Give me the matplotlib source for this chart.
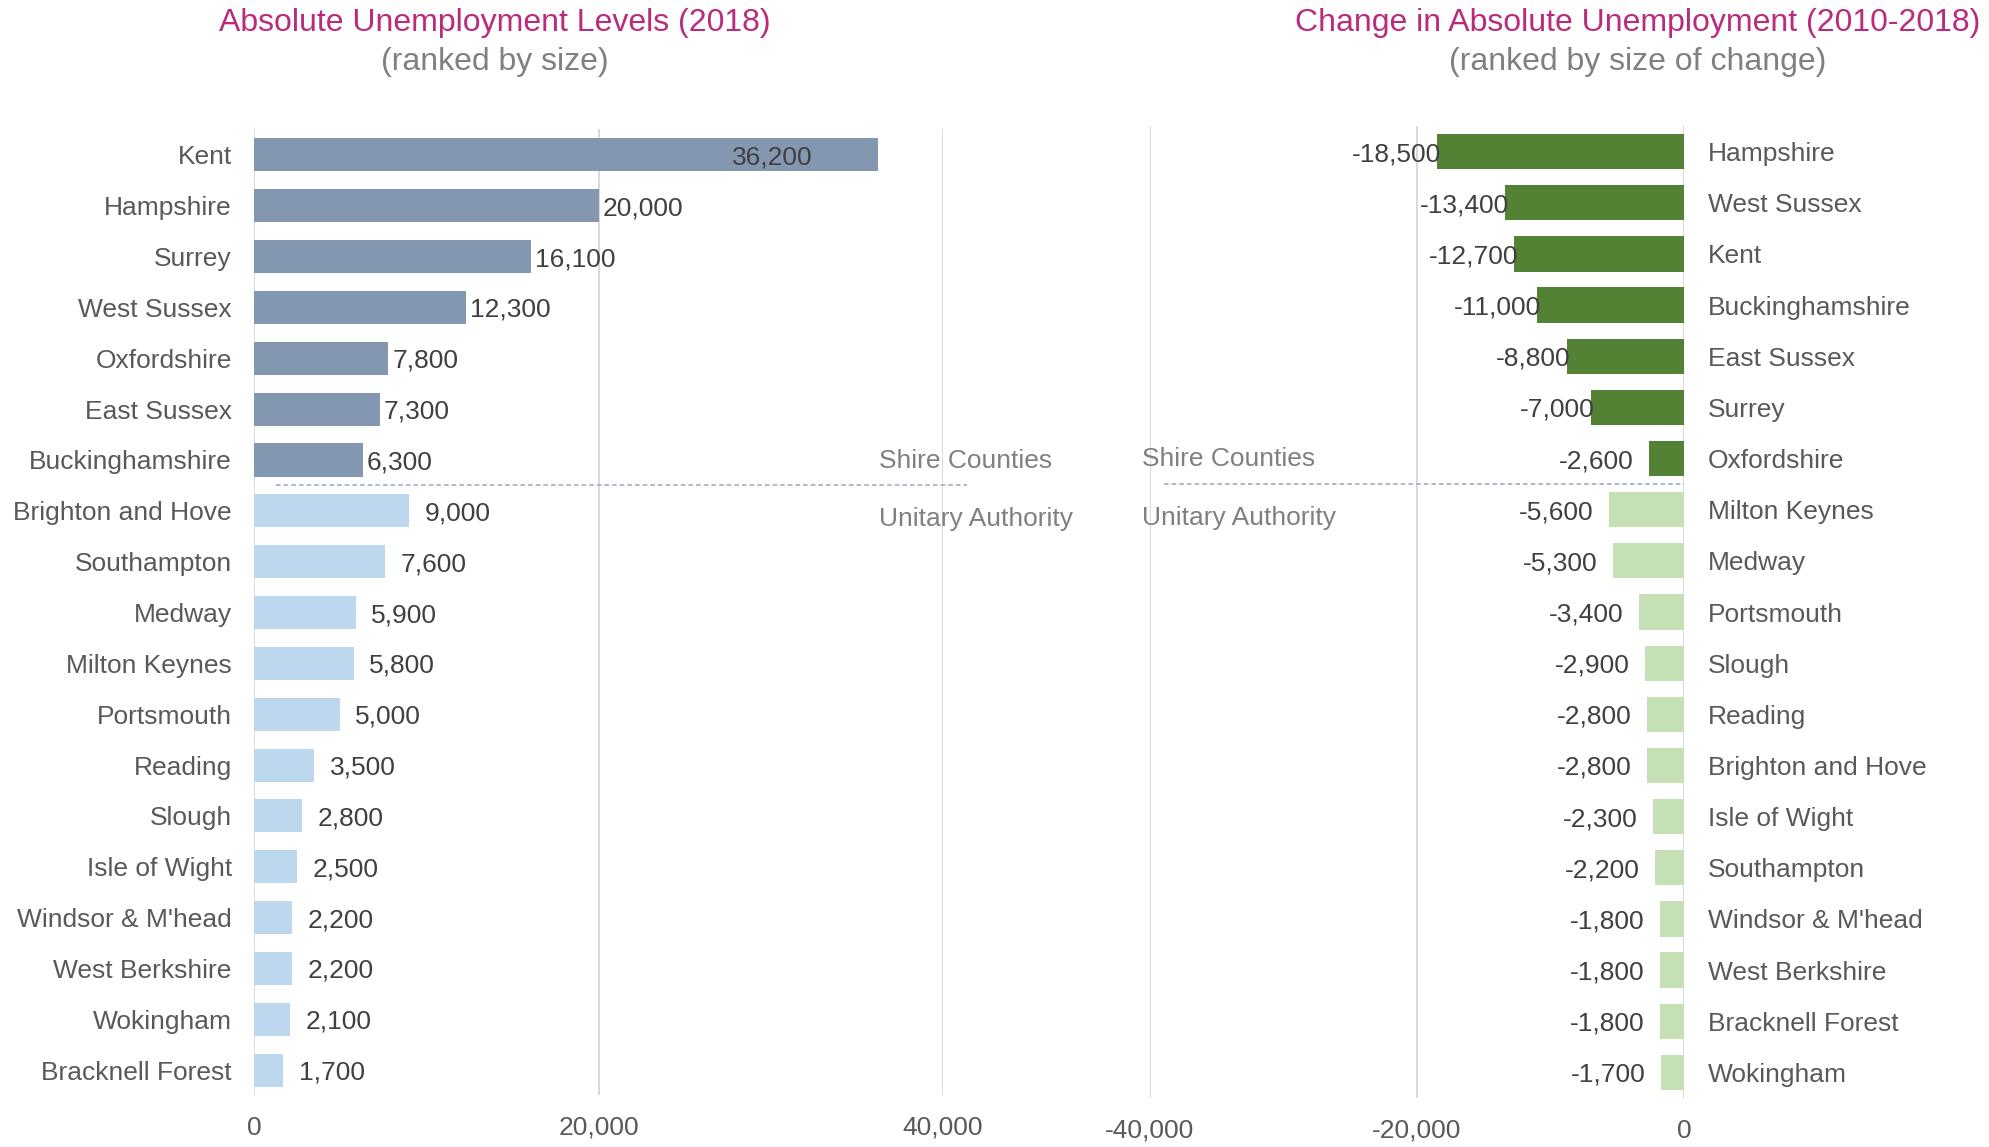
import matplotlib
matplotlib.use("Agg")
from matplotlib import pyplot as plt

plt.rcParams['font.family'] = ['Liberation Sans', 'DejaVu Sans']

# left chart: absolute unemployment 2018
left_names = ["Kent", "Hampshire", "Surrey", "West Sussex", "Oxfordshire", "East Sussex",
              "Buckinghamshire", "Brighton and Hove", "Southampton", "Medway", "Milton Keynes",
              "Portsmouth", "Reading", "Slough", "Isle of Wight", "Windsor & M'head",
              "West Berkshire", "Wokingham", "Bracknell Forest"]
left_values = [36200, 20000, 16100, 12300, 7800, 7300, 6300,
               9000, 7600, 5900, 5800, 5000, 3500, 2800, 2500, 2200, 2200, 2100, 1700]

# right chart: change 2010-2018
right_names = ["Hampshire", "West Sussex", "Kent", "Buckinghamshire", "East Sussex", "Surrey",
               "Oxfordshire", "Milton Keynes", "Medway", "Portsmouth", "Slough", "Reading",
               "Brighton and Hove", "Isle of Wight", "Southampton", "Windsor & M'head",
               "West Berkshire", "Bracknell Forest", "Wokingham"]
right_values = [-18500, -13400, -12700, -11000, -8800, -7000, -2600,
                -5600, -5300, -3400, -2900, -2800, -2800, -2300, -2200, -1800, -1800, -1800, -1700]

n_shire = 7  # first 7 rows are shire counties

left_ticks = [0, 20000, 40000]
right_ticks = [-40000, -20000, 0]

TITLE_C = '#BA2B7C'
SUB_C = '#808080'
LAB_C = '#595959'
VAL_C = '#404040'
GRID_C = '#D9D9D9'
FS = 19

W, H = 1990, 1147
fig = plt.figure(figsize=(W / 100, H / 100), dpi=100)

def px_axes(x0, x1, y0, y1):
    return fig.add_axes([x0 / W, 1 - y1 / H, (x1 - x0) / W, (y1 - y0) / H])

ax1 = px_axes(254, 943, 129, 1095)
ax2 = px_axes(1150, 1684, 126, 1098)

rows = list(range(len(left_names)))
left_cols = ['#8497B0'] * n_shire + ['#BDD7EE'] * (len(left_names) - n_shire)
right_cols = ['#548235'] * n_shire + ['#C5E0B4'] * (len(right_names) - n_shire)

ax1.barh(rows, left_values, height=0.65, color=left_cols, zorder=2)
ax2.barh(rows, right_values, height=0.69, color=right_cols, zorder=2)

for ax, ticks in ((ax1, left_ticks), (ax2, right_ticks)):
    for t in ticks:
        ax.axvline(t, color=GRID_C, lw=1.4, zorder=1)
    for s in ax.spines.values():
        s.set_visible(False)
    ax.set_xticks(ticks)
    ax.set_xticklabels([f"{t:,}" for t in ticks])
    ax.tick_params(axis='x', length=0, pad=15, labelsize=FS, labelcolor=LAB_C)
    ax.tick_params(axis='y', length=0, labelsize=FS, labelcolor=LAB_C)

ax1.set_xlim(0, 40000)
ax1.set_ylim(18.49, -0.51)
ax1.set_yticks(rows)
ax1.set_yticklabels(left_names)
ax1.tick_params(axis='y', pad=16)

ax2.set_xlim(-40000, 0)
ax2.set_ylim(18.5, -0.5)
ax2.set_yticks(rows)
ax2.yaxis.tick_right()
ax2.set_yticklabels(right_names)
ax2.tick_params(axis='y', pad=17)

# value labels
for i, v in enumerate(left_values):
    if i == 0:
        ax1.annotate(f"{v:,}", (v, i), xytext=(-47, 0), textcoords='offset points',
                     ha='right', va='center_baseline', fontsize=FS, color=VAL_C)
    else:
        off = 3 if i < n_shire else 11
        ax1.annotate(f"{v:,}", (v, i), xytext=(off, 0), textcoords='offset points',
                     ha='left', va='center_baseline', fontsize=FS, color=VAL_C)

for i, v in enumerate(right_values):
    off = 3 if i < n_shire - 1 else -11
    ax2.annotate(f"{v:,}", (v, i), xytext=(off, 0), textcoords='offset points',
                 ha='right', va='center_baseline', fontsize=FS, color=VAL_C, zorder=3)

# group separators
ax1.plot([1300, 41400], [6.5, 6.5], ls=(0, (3, 2)), color='#97A5C0', lw=1.1, clip_on=False)
ax2.plot([-38950, 0], [6.5, 6.5], ls=(0, (3, 2)), color='#97A5C0', lw=1.1, clip_on=False)
ax1.text(36280, 5.97, "Shire Counties", fontsize=FS, color=SUB_C, va='center_baseline', clip_on=False)
ax1.text(36280, 7.11, "Unitary Authority", fontsize=FS, color=SUB_C, va='center_baseline', clip_on=False)
ax2.text(-40600, 5.97, "Shire Counties", fontsize=FS, color=SUB_C, va='center_baseline', clip_on=False)
ax2.text(-40600, 7.11, "Unitary Authority", fontsize=FS, color=SUB_C, va='center_baseline', clip_on=False)

# titles
fig.text(495 / W, 1 - 23 / H, "Absolute Unemployment Levels (2018)", ha='center', va='center',
         fontsize=23, color=TITLE_C)
fig.text(495 / W, 1 - 62 / H, "(ranked by size)", ha='center', va='center',
         fontsize=23, color=SUB_C)
fig.text(1638 / W, 1 - 23 / H, "Change in Absolute Unemployment (2010-2018)", ha='center',
         va='center', fontsize=23, color=TITLE_C)
fig.text(1638 / W, 1 - 62 / H, "(ranked by size of change)", ha='center', va='center',
         fontsize=23, color=SUB_C)

fig.savefig("out.png", dpi=100, facecolor='white')
